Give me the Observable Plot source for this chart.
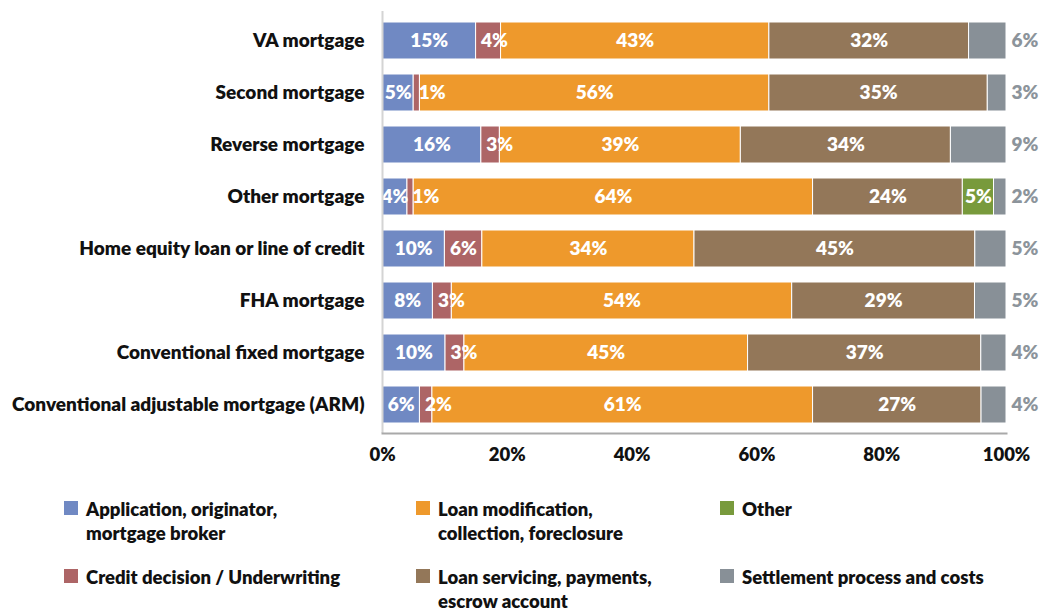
<!DOCTYPE html>
<html>
<head>
<meta charset="utf-8">
<script src="https://cdn.jsdelivr.net/npm/d3@7"></script>
<script src="https://cdn.jsdelivr.net/npm/@observablehq/plot@0.6"></script>
<style>
  html, body { margin: 0; padding: 0; background: #fff; }
  body { width: 1043px; height: 612px; overflow: hidden; font-family: Lato, "Open Sans", sans-serif; }
  #legend {
    display: grid;
    grid-auto-flow: column;
    grid-template-rows: auto auto;
    grid-template-columns: 352px 304px auto;
    row-gap: 20px;
    margin-left: 64px;
    padding-top: 22px;
    font-weight: 800;
    font-size: 18.5px;
    line-height: 24px;
    color: #111;
  }
  .item { display: flex; align-items: flex-start; }
  .sw { width: 14px; height: 14px; margin-top: 4px; margin-right: 8px; flex: none; }
  .txt { white-space: pre-line; }
</style>
</head>
<body>
<div id="chart"></div>
<div id="legend"></div>
<script>
const categories = [
  "VA mortgage",
  "Second mortgage",
  "Reverse mortgage",
  "Other mortgage",
  "Home equity loan or line of credit",
  "FHA mortgage",
  "Conventional fixed mortgage",
  "Conventional adjustable mortgage (ARM)"
];
const series = [
  "Application, originator, mortgage broker",
  "Credit decision / Underwriting",
  "Loan modification, collection, foreclosure",
  "Loan servicing, payments, escrow account",
  "Other",
  "Settlement process and costs"
];
const legendLabels = [
  "Application, originator,\nmortgage broker",
  "Credit decision / Underwriting",
  "Loan modification,\ncollection, foreclosure",
  "Loan servicing, payments,\nescrow account",
  "Other",
  "Settlement process and costs"
];
const application = [15, 5, 16, 4, 10, 8, 10, 6];
const creditDecision = [4, 1, 3, 1, 6, 3, 3, 2];
const loanModification = [43, 56, 39, 64, 34, 54, 45, 61];
const loanServicing = [32, 35, 34, 24, 45, 29, 37, 27];
const other = [0, 0, 0, 5, 0, 0, 0, 0];
const settlement = [6, 3, 9, 2, 5, 5, 4, 4];
const colors = ["#7089c3", "#ad6566", "#ee992c", "#937759", "#789a3c", "#889097"];
const xTicks = [0, 0.2, 0.4, 0.6, 0.8, 1];

const valueArrays = [application, creditDecision, loanModification, loanServicing, other, settlement];
const data = [];
categories.forEach((cat, i) => {
  series.forEach((s, j) => {
    data.push({cat, series: s, value: valueArrays[j][i]});
  });
});
const lastSeries = series[series.length - 1];
const creditSeries = series[1];
const settlementData = data.filter(d => d.series === lastSeries);
const FONT = "Lato, 'Open Sans', sans-serif";

const chart = Plot.plot({
  width: 1043,
  height: 475,
  marginLeft: 382,
  marginRight: 37,
  marginTop: 11,
  marginBottom: 42,
  style: {fontFamily: FONT, fontWeight: 800, fontSize: "18px", color: "#111", background: "#fff"},
  x: {domain: [0, 1], axis: null},
  y: {domain: categories, paddingInner: 0.29, paddingOuter: 0.135, axis: null},
  color: {domain: series, range: colors},
  marks: [
    Plot.barX(data, Plot.stackX({
      x: "value", y: "cat", fill: "series", offset: "normalize",
      stroke: "#fff", strokeWidth: 1
    })),
    // centered labels (all but credit decision and settlement)
    Plot.text(data, Plot.stackX({
      x: "value", y: "cat", offset: "normalize",
      text: d => (d.series === lastSeries || d.series === creditSeries || d.value === 0) ? null : d.value + "%",
      fill: "#fff", fontSize: 19, fontWeight: 800
    })),
    // credit decision labels start just after the segment start
    Plot.text(data, Plot.stackX1({
      x: "value", y: "cat", offset: "normalize",
      text: d => (d.series === creditSeries && d.value > 0) ? d.value + "%" : null,
      textAnchor: "start", dx: 5,
      fill: "#fff", fontSize: 19, fontWeight: 800
    })),
    Plot.text(settlementData, {
      y: "cat", frameAnchor: "right", textAnchor: "start", dx: 5,
      text: d => d.value + "%", fill: "#8c949b", fontSize: 19, fontWeight: 800
    }),
    Plot.ruleX([0], {stroke: "#d4d4d4", strokeWidth: 2}),
    Plot.frame({anchor: "bottom", stroke: "#a9a9a9", strokeWidth: 2}),
    Plot.axisY({tickSize: 0, tickPadding: 18, label: null, fontSize: 19}),
    Plot.axisX({ticks: xTicks, tickSize: 0, tickPadding: 14, tickFormat: d3.format(".0%"), label: null, fontSize: 18.5})
  ]
});
document.getElementById("chart").appendChild(chart);

const legend = document.getElementById("legend");
series.forEach((s, j) => {
  const item = document.createElement("div");
  item.className = "item";
  const sw = document.createElement("div");
  sw.className = "sw";
  sw.style.background = colors[j];
  const txt = document.createElement("div");
  txt.className = "txt";
  txt.textContent = legendLabels[j];
  item.appendChild(sw);
  item.appendChild(txt);
  legend.appendChild(item);
});
</script>
</body>
</html>
